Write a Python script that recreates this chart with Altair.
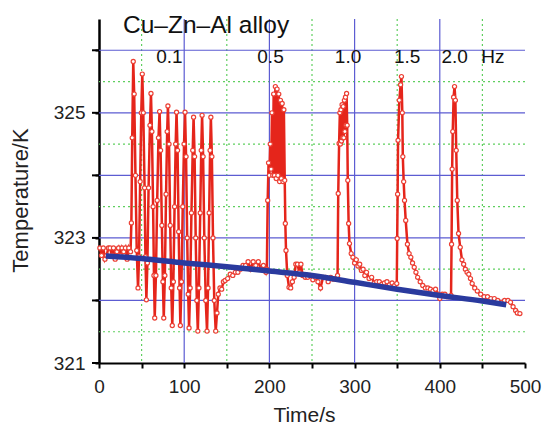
import altair as alt
import pandas as pd

# ---------------- data ----------------
# red measured temperature (time in s, temperature in K)
t_base = [1, 3, 5, 7, 9, 11, 13, 15, 17, 19, 21, 23, 25, 27, 29, 31, 33, 35, 37]
T_base = [322.84, 322.72, 322.84, 322.66, 322.72, 322.84, 322.84, 322.72, 322.84, 322.66,
          322.78, 322.84, 322.72, 322.84, 322.78, 322.84, 322.66, 322.84, 322.78]

t_f01 = [38, 39, 40.2,
         41.3, 42.8, 44.3, 45.8, 47, 48.3, 49.6, 50.8,
         52, 53.5, 54.5, 55.6, 56.8, 58.2, 59.8, 61,
         62.1, 63.5, 64.5, 65.4, 66.8, 68.3, 69.8, 71.1,
         72.3, 73.8, 75, 76, 77.3, 78.7, 80, 80.9,
         82.2, 83.6, 84.8, 86, 87.3, 88.7, 90, 91,
         92.2, 93.5, 94.6, 95.5, 96.8, 98.3, 99.8, 101,
         102.2, 103.5, 104.7, 105.7, 107, 108.5, 110, 111,
         112.2, 113.5, 114.8, 116, 117.3, 118.8, 120, 121,
         122.2, 123.6, 125.3, 126.8, 128, 129.3, 130.4, 131.3,
         132.5, 133.8, 135.3, 137]
T_f01 = [323.24, 324.6, 325.82,
         325.3, 324.0, 322.8, 322.2, 322.7, 323.9, 325.0, 325.62,
         325.0, 323.8, 322.7, 322.01, 322.6, 323.8, 324.8, 325.31,
         324.7, 323.5, 322.4, 321.72, 322.4, 323.6, 324.6, 325.02,
         324.4, 323.2, 322.3, 321.72, 322.4, 323.7, 324.7, 325.11,
         324.5, 323.2, 322.2, 321.6, 322.3, 323.5, 324.5, 325.01,
         324.4, 323.1, 322.2, 321.6, 322.3, 323.5, 324.5, 325.01,
         324.3, 323.0, 322.1, 321.56, 322.2, 323.4, 324.4, 324.93,
         324.3, 323.0, 322.0, 321.51, 322.2, 323.4, 324.4, 324.96,
         324.3, 323.0, 322.0, 321.51, 322.2, 323.4, 324.4, 324.93,
         324.3, 323.0, 322.0, 321.51]

t_rec1 = [138.5, 140, 142, 144, 146, 148, 151, 154, 157, 160, 163, 166, 169, 172,
          175, 178, 181, 184, 187, 190, 193, 196]
T_rec1 = [321.8, 322.1, 322.2, 322.18, 322.3, 322.32, 322.35, 322.42, 322.4, 322.45,
          322.45, 322.5, 322.56, 322.56, 322.62, 322.5, 322.62, 322.56, 322.62, 322.5,
          322.56, 322.45]

t_f05 = [197, 198, 199, 200, 201, 202, 203, 204, 205, 206, 207, 208, 209, 210, 211,
         212, 213, 214, 215, 216, 217, 218, 218.7, 219.5, 221, 223, 225, 227, 229,
         231, 233, 235, 237, 239, 242, 245, 248, 251, 254, 257, 260, 263, 266, 269,
         272, 275, 278]
T_f05 = [322.5, 323.6, 324.2, 324.0, 324.5, 324.1, 325.0, 324.0, 325.3, 324.0, 325.42,
         323.95, 325.38, 324.0, 325.3, 323.9, 325.2, 323.95, 325.15, 323.9, 325.05,
         323.92, 323.23, 322.8, 322.4, 322.21, 322.2, 322.3, 322.37, 322.58, 322.58,
         322.45, 322.58, 322.4, 322.37, 322.37, 322.4, 322.33, 322.37, 322.3, 322.2,
         322.37, 322.37, 322.3, 322.37, 322.34, 322.35]

t_f10 = [280, 280.8, 281.8, 282.7, 283.3, 284, 284.6, 285.3, 286, 286.6, 287.3, 288,
         288.6, 289.3, 290, 290.6, 291.3, 292, 293, 294, 296, 298, 300, 302, 304, 306,
         308, 310, 312, 314, 317, 320, 323, 326, 329, 332, 335, 338, 341, 344, 347, 349.5]
T_f10 = [322.4, 323.71, 324.51, 325.0, 324.5, 325.05, 324.55, 325.13, 324.6, 325.1,
         324.6, 325.2, 324.7, 325.25, 324.8, 325.31, 324.8, 323.92, 323.23, 322.91,
         322.75, 322.69, 322.6, 322.65, 322.55, 322.58, 322.48, 322.5, 322.4, 322.45,
         322.35, 322.37, 322.28, 322.3, 322.3, 322.26, 322.28, 322.3, 322.25, 322.28,
         322.24, 322.27]

t_f15 = [350, 350.5, 351, 352.5, 354, 355, 356, 356.6, 357.6, 358.6, 360, 362, 364,
         366, 368, 370, 372, 374, 377, 380, 383, 386, 389, 392, 395, 398, 400, 403,
         406, 409, 412, 413.2]
T_f15 = [322.99, 323.7, 324.56, 325.2, 325.45, 325.58, 325.0, 324.3, 323.9, 323.6,
         323.28, 322.9, 322.75, 322.69, 322.6, 322.53, 322.45, 322.37, 322.3, 322.24,
         322.2, 322.2, 322.18, 322.15, 322.18, 322.1, 322.03, 322.1, 322.1, 322.06,
         322.06, 322.08]

t_f20 = [413.8, 414.5, 415.2, 416.2, 417.3, 418.3, 419.3, 420.5, 422, 424, 426, 428,
         430, 432, 434, 436, 438, 441, 444, 448, 452, 456, 460, 464, 468, 472, 476,
         480, 483, 486, 489, 491, 494]
T_f20 = [322.9, 324.1, 324.7, 325.25, 325.42, 325.2, 324.4, 323.6, 323.07, 322.85,
         322.65, 322.58, 322.5, 322.45, 322.42, 322.35, 322.27, 322.2, 322.15, 322.1,
         322.06, 322.06, 322.03, 322.03, 322.0, 321.97, 322.0, 322.0, 321.97, 321.9,
         321.84, 321.8, 321.79]

# blue smooth background curve
t_blue = [8, 50, 100, 150, 200, 250, 300, 350, 400, 450, 478]
T_blue = [322.71, 322.67, 322.6, 322.54, 322.47, 322.40, 322.29, 322.18, 322.08,
          321.99, 321.93]

# grid / tick values
x_major_grid = [100, 200, 300, 400]
x_minor_grid = [50, 150, 250, 350, 450]
y_major_grid = [322, 323, 324, 325, 326]
y_minor_grid = [321.5, 322.5, 323.5, 324.5, 325.5]
y_major_ticks = [321, 322, 323, 324, 325, 326]

# annotations
title_text = "Cu\u2013Zn\u2013Al alloy"
freq_labels = ["0.1", "0.5", "1.0", "1.5", "2.0", "Hz"]
freq_t = [82.6, 201.3, 292.3, 361.7, 417.5, 462.4]

# ---------------- build tables ----------------
t_red = t_base + t_f01 + t_rec1 + t_f05 + t_f10 + t_f15 + t_f20
T_red = T_base + T_f01 + T_rec1 + T_f05 + T_f10 + T_f15 + T_f20
red = pd.DataFrame({"t": t_red, "T": T_red})
blue = pd.DataFrame({"t": t_blue, "T": T_blue})
freq = pd.DataFrame({"t": freq_t, "T": [325.8] * len(freq_t), "label": freq_labels})
ttl = pd.DataFrame({"t": [28.2], "T": [326.28], "label": [title_text]})

FONT = "Liberation Sans"
BLUE_GRID = "#5c5cd2"
GREEN_GRID = "#5fcf5f"

xscale = alt.Scale(domain=[0, 500], nice=False, zero=False)
yscale = alt.Scale(domain=[321, 326.5], nice=False, zero=False)

x_axis = alt.Axis(
    title="Time/s",
    values=list(range(0, 501, 50)),
    labelExpr="datum.value % 100 === 0 ? datum.label : ''",
    labelFont=FONT, labelFontSize=19, labelColor="#222", labelPadding=9,
    labelFlush=False,
    titleFont=FONT, titleFontSize=21, titleFontWeight="normal", titleColor="#222",
    titleX=205, titleY=41,
    domainColor="black", domainWidth=2,
    tickColor="black", tickWidth=2, tickSize=5,
    grid=False,
)

y_axis = alt.Axis(
    title="Temperature/K",
    values=[321 + 0.5 * i for i in range(12)],
    format="d",
    labelExpr="datum.value % 2 === 1 ? datum.label : ''",
    labelFont=FONT, labelFontSize=19, labelColor="#222", labelPadding=10,
    labelFlush=False,
    titleFont=FONT, titleFontSize=22, titleFontWeight="normal", titleColor="#222",
    titleX=-67, titleY=181,
    domainColor="black", domainWidth=2.5,
    tickColor="black", tickWidth=2, tickSize=4,
    grid=False,
)

def vgrid(vals, color, dash):
    return alt.Chart(pd.DataFrame({"v": vals})).mark_rule(
        color=color, strokeWidth=1.2, strokeDash=dash).encode(
        x=alt.X("v:Q", scale=xscale, axis=x_axis))

def hgrid(vals, color, dash):
    return alt.Chart(pd.DataFrame({"v": vals})).mark_rule(
        color=color, strokeWidth=1.2, strokeDash=dash).encode(
        y=alt.Y("v:Q", scale=yscale, axis=y_axis))

grid_layers = [
    vgrid(x_minor_grid, GREEN_GRID, [2, 3]),
    hgrid(y_minor_grid, GREEN_GRID, [2, 3]),
    vgrid(x_major_grid, BLUE_GRID, [1, 0]),
    hgrid(y_major_grid, BLUE_GRID, [1, 0]),
]

major_ticks = alt.Chart(pd.DataFrame({"v": y_major_ticks})).mark_rule(
    color="black", strokeWidth=2).encode(
    y=alt.Y("v:Q", scale=yscale),
    x=alt.value(-7), x2=alt.value(0))

base_red = alt.Chart(red).encode(
    x=alt.X("t:Q", scale=xscale, axis=x_axis),
    y=alt.Y("T:Q", scale=yscale, axis=y_axis),
    order=alt.Order("t:Q"),
)

red_line = base_red.mark_line(color="#e5251b", strokeWidth=2.5)
red_pts = base_red.mark_point(shape="circle", filled=True, fill="white",
                              stroke="#ec4035", strokeWidth=1.2, size=17, opacity=1)

blue_line = alt.Chart(blue).mark_line(color="#2a3a9e", strokeWidth=5.5,
                                      interpolate="monotone").encode(
    x=alt.X("t:Q", scale=xscale), y=alt.Y("T:Q", scale=yscale))

freq_txt = alt.Chart(freq).mark_text(font=FONT, fontSize=19, color="#111",
                                     align="center", baseline="alphabetic").encode(
    x=alt.X("t:Q", scale=xscale), y=alt.Y("T:Q", scale=yscale), text="label:N")

title_txt = alt.Chart(ttl).mark_text(font=FONT, fontSize=24.5, color="#111",
                                     align="left", baseline="alphabetic").encode(
    x=alt.X("t:Q", scale=xscale), y=alt.Y("T:Q", scale=yscale), text="label:N")

chart = alt.layer(*grid_layers, red_line, red_pts, blue_line, major_ticks,
                  freq_txt, title_txt).properties(
    width=426, height=344,
    autosize=alt.AutoSizeParams(type="none"),
    padding={"left": 99, "top": 19, "right": 17, "bottom": 61},
    background="white",
).configure_view(stroke=None)

chart.save("out.html", embed_options={"renderer": "svg", "actions": False})
